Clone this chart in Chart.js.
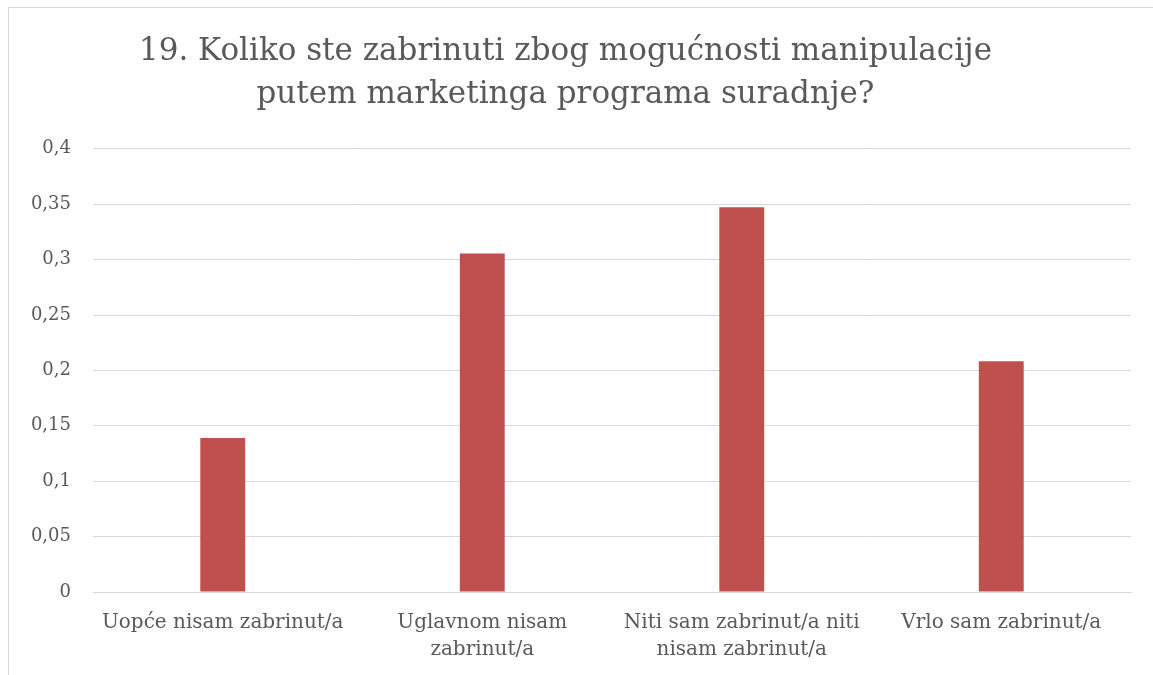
<!DOCTYPE html>
<html>
<head>
<meta charset="utf-8">
<script src="https://cdn.jsdelivr.net/npm/chart.js@4"></script>
<style>
html,body{margin:0;padding:0;background:#fff;overflow:hidden;}
#frame{position:absolute;left:8px;top:7px;width:1200px;height:700px;border:1px solid #d9d9d9;box-sizing:border-box;}
#c{position:absolute;left:0;top:0;}
</style>
</head>
<body>
<div id="frame"></div>
<canvas id="c" width="1153" height="675"></canvas>
<script>
const titleLines = ['19. Koliko ste zabrinuti zbog mogućnosti manipulacije', 'putem marketinga programa suradnje?'];
const categories = [
  ['Uopće nisam zabrinut/a'],
  ['Uglavnom nisam', 'zabrinut/a'],
  ['Niti sam zabrinut/a niti', 'nisam zabrinut/a'],
  ['Vrlo sam zabrinut/a']
];
const values = [0.1389, 0.3056, 0.3472, 0.2083];
const yTickLabels = ['0', '0,05', '0,1', '0,15', '0,2', '0,25', '0,3', '0,35', '0,4'];

const FONT = 'DejaVu Serif';
const TXT = '#595959';

new Chart(document.getElementById('c'), {
  type: 'bar',
  data: {
    labels: categories,
    datasets: [{
      data: values,
      backgroundColor: '#C0504D',
      borderWidth: 0,
      categoryPercentage: 1,
      barPercentage: 0.173
    }]
  },
  options: {
    responsive: false,
    animation: false,
    layout: { padding: { left: 0, right: 22, top: 30, bottom: 12 } },
    plugins: {
      legend: { display: false },
      tooltip: { enabled: false },
      title: {
        display: true,
        text: titleLines,
        color: TXT,
        font: { family: FONT, size: 31, weight: 'normal', lineHeight: 1.4 },
        padding: { top: 0, bottom: 32 }
      }
    },
    scales: {
      x: {
        afterFit: (s) => { s.height = 71; },
        grid: { display: false, drawTicks: false },
        border: { color: '#d9d9d9', width: 1 },
        ticks: {
          color: TXT,
          font: { family: FONT, size: 20, lineHeight: 1.35 },
          padding: 17,
          maxRotation: 0,
          autoSkip: false
        }
      },
      y: {
        min: 0,
        max: 0.4,
        afterFit: (s) => { s.width = 93; },
        grid: { color: '#d9d9d9', lineWidth: 1, drawTicks: false },
        border: { display: false },
        ticks: {
          stepSize: 0.05,
          color: TXT,
          font: { family: FONT, size: 18 },
          padding: 22,
          callback: (v, i) => yTickLabels[i]
        }
      }
    }
  }
});
</script>
</body>
</html>
